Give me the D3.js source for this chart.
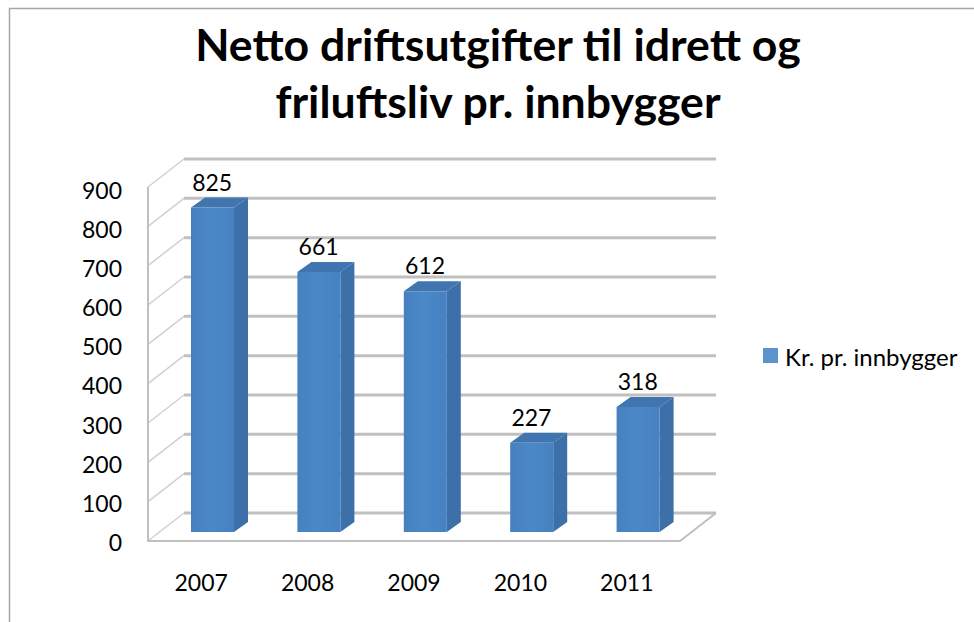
<!DOCTYPE html>
<html>
<head>
<meta charset="utf-8">
<script src="https://cdn.jsdelivr.net/npm/d3@7"></script>
<style>
    body { margin: 0; background: #fff; }
    svg { display: block; font-family: Lato, "Open Sans", sans-serif; }
</style>
</head>
<body>
<div id="chart"></div>
<script>
// values
const years = ['2007', '2008', '2009', '2010', '2011'];
const values = [825, 661, 612, 227, 318];
const yTicks = [0, 100, 200, 300, 400, 500, 600, 700, 800, 900];
const titleLines = ['Netto driftsutgifter til idrett og', 'friluftsliv pr. innbygger'];
const seriesName = 'Kr. pr. innbygger';

const width = 974;
const height = 622;

// floor depth of the fake 3d box, and depth of a bar
const wallDx = 36, wallDy = 28;
const barDx = 14, barDy = 10;
const barWidth = 43;

const x = d3.scaleBand().domain(years).range([148, 680]);
const y = d3.scaleLinear().domain([0, 900]).range([541, 187]);
// tick labels sit a little lower than the box edge they belong to
const yLabel = d3.scaleLinear().domain([0, 900]).range([543, 191]);

const svg = d3.select('#chart').append('svg')
    .attr('width', width)
    .attr('height', height);

const defs = svg.append('defs');

// the reference is a slightly soft screenshot
defs.append('filter').attr('id', 'soft')
    .append('feGaussianBlur').attr('stdDeviation', 0.7);

const grad = defs.append('linearGradient').attr('id', 'barFront');
grad.append('stop').attr('offset', '0%').attr('stop-color', '#4580bf');
grad.append('stop').attr('offset', '45%').attr('stop-color', '#4b88c8');
grad.append('stop').attr('offset', '100%').attr('stop-color', '#4681c1');

// outer frame, only top and left are in the picture
svg.append('path')
    .attr('d', 'M9.5,622V8.5H974')
    .attr('fill', 'none')
    .attr('stroke', '#a6a6a6')
    .attr('stroke-width', 1.5);

const plot = svg.append('g').attr('filter', 'url(#soft)');

// gridlines on back wall and side wall
const grid = plot.append('g')
    .attr('fill', 'none')
    .attr('stroke', '#c0c0c0')
    .attr('stroke-width', 3);

grid.selectAll('.back')
    .data(yTicks)
    .enter().append('line')
    .attr('class', 'back')
    .attr('x1', 148 + wallDx)
    .attr('x2', 680 + wallDx)
    .attr('y1', d => y(d) - wallDy)
    .attr('y2', d => y(d) - wallDy);

grid.selectAll('.side')
    .data(yTicks)
    .enter().append('line')
    .attr('class', 'side')
    .attr('stroke-width', 1.5)
    .attr('stroke', '#d0d0d0')
    .attr('x1', 148)
    .attr('x2', 148 + wallDx)
    .attr('y1', d => y(d))
    .attr('y2', d => y(d) - wallDy);

// floor front edge, right edge and the left axis
grid.append('path')
    .attr('stroke-width', 2)
    .attr('d', `M148,${y(900)}V${y(0)}H680L${680 + wallDx},${y(0) - wallDy}`);

// bars, each one front + side + top
const bars = plot.selectAll('.bar')
    .data(years.map((year, i) => ({year: year, value: values[i]})))
    .enter().append('g')
    .attr('class', 'bar')
    .attr('transform', d => `translate(${x(d.year) + 43},-9)`);

bars.append('path')
    .attr('fill', '#3c6fa8')
    .attr('d', d => `M${barWidth},${y(d.value)}l${barDx},${-barDy}V${y(0) - barDy}l${-barDx},${barDy}Z`);

bars.append('path')
    .attr('fill', '#3f75b0')
    .attr('d', d => `M0,${y(d.value)}l${barDx},${-barDy}h${barWidth}l${-barDx},${barDy}Z`);

bars.append('rect')
    .attr('fill', 'url(#barFront)')
    .attr('width', barWidth)
    .attr('y', d => y(d.value))
    .attr('height', d => y(0) - y(d.value));

// value labels above the bars
svg.selectAll('.value')
    .data(values)
    .enter().append('text')
    .attr('class', 'value')
    .attr('x', (d, i) => x(years[i]) + x.bandwidth() / 2 + 11)
    .attr('y', d => y(d) - 26)
    .attr('text-anchor', 'middle')
    .attr('font-size', 23)
    .attr('fill', '#000')
    .text(d => d);

// axes, no domain or tick marks because the box lines do that job
const yAxis = svg.append('g')
    .attr('transform', 'translate(122,0)')
    .call(d3.axisLeft(yLabel).tickValues(yTicks).tickSize(0).tickPadding(0));

const xAxis = svg.append('g')
    .attr('transform', 'translate(0,575)')
    .call(d3.axisBottom(x).tickSize(0).tickPadding(0));

yAxis.select('.domain').remove();
xAxis.select('.domain').remove();
svg.selectAll('.tick text')
    .attr('font-family', 'Lato, "Open Sans", sans-serif')
    .attr('font-size', 23)
    .attr('fill', '#000');

// title
svg.selectAll('.title')
    .data(titleLines)
    .enter().append('text')
    .attr('class', 'title')
    .attr('x', 498)
    .attr('y', (d, i) => 60.5 + i * 57.5)
    .attr('text-anchor', 'middle')
    .attr('font-size', 44.6)
    .attr('font-weight', 700)
    .attr('fill', '#000')
    .text(d => d);

// legend
svg.append('rect')
    .attr('x', 763)
    .attr('y', 348)
    .attr('width', 15)
    .attr('height', 15)
    .attr('fill', '#5b93cd');

svg.append('text')
    .attr('x', 785)
    .attr('y', 366)
    .attr('font-size', 24)
    .attr('fill', '#000')
    .text(seriesName);
</script>
</body>
</html>
